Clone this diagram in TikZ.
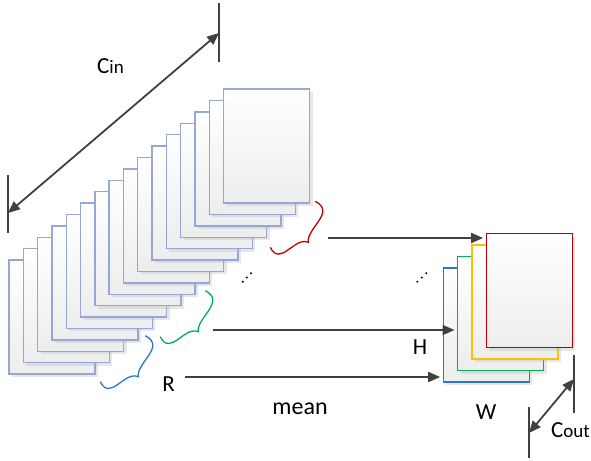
\documentclass[tikz,border=0pt]{standalone}
\usepackage{fontspec}
\setmainfont{Carlito}
\usetikzlibrary{arrows.meta,shadows}

\definecolor{sheetedge}{RGB}{150,166,216}
\definecolor{linegray}{RGB}{64,64,64}
\definecolor{mapblue}{RGB}{40,120,196}
\definecolor{mapgreen}{RGB}{0,176,80}
\definecolor{mapyellow}{RGB}{255,192,0}
\definecolor{mapred}{RGB}{192,0,0}

\begin{document}
\begin{tikzpicture}[x=1pt,y=-1pt,
  sheet/.style={draw=#1, line width=1.4pt, top color=white, bottom color=black!7,
    minimum width=86pt, minimum height=114pt, inner sep=0pt, anchor=north west,
    drop shadow={shadow xshift=3pt, shadow yshift=-3pt, fill=black!30, opacity=0.3}},
  flow/.style={draw=linegray, line width=1.8pt, shorten >=2.5pt,
    -{Triangle[length=12pt,width=10pt]}},
  dimline/.style={draw=linegray, line width=1.8pt,
    {Triangle[length=12pt,width=10pt]}-{Triangle[length=12pt,width=10pt]}},
  tickline/.style={draw=linegray, line width=1.8pt},
  lab/.style={inner sep=0pt, font=\fontsize{23}{27}\selectfont},
  subs/.style={font=\fontsize{19}{21}\selectfont},
  curly/.pic={\draw[line width=1.3pt]
    (7,-41) .. controls (28,-30) and (-2,-14) .. (0,0)
            .. controls (-14,-6) and (-28,25) .. (-38,5);},
  dot/.style={fill=black, radius=1.1pt}
]
\useasboundingbox (0,0) rectangle (591,460);
\fill[white] (0,0) rectangle (591,460);

% input channels: a stack of sixteen feature maps, back to front
\foreach \i in {0,...,15}
  \node[sheet=sheetedge] (s\i) at ({8.3+14.3*\i},{259.3-11.4*\i}) {};

% output channels
\node[sheet=mapblue]   (ob) at (442.7,267.3) {};
\node[sheet=mapgreen]  (og) at (457.0,255.8) {};
\node[sheet=mapyellow] (oy) at (471.3,244.3) {};
\node[sheet=mapred]    (or) at (485.6,232.8) {};

% groups of input maps
\pic[color=mapred]   at (308.3,242.3) {curly};
\pic[color=mapgreen] at (198.3,331.7) {curly};
\pic[color=mapblue]  at (138.3,376.7) {curly};

% group-to-output arrows
\coordinate (g1) at (328,238);
\coordinate (g2) at (213,330);
\coordinate (g3) at (185,377);
\draw[flow] (g1) -- (g1 -| or.west);
\draw[flow] (g2) -- (g2 -| og.west);
\draw[flow] (g3) -- (g3 -| ob.west);

% ellipsis dots
\fill[dot] (242.7,281.7) circle[] (246.8,277.5) circle[] (251,273.3) circle[];
\fill[dot] (417.3,281.7) circle[] (421.7,277.5) circle[] (426.2,273.3) circle[];

% C_in dimension
\coordinate (ci1) at (8,175);   \coordinate (ci2) at (8,233);
\coordinate (ci3) at (219,3);   \coordinate (ci4) at (219,62);
\coordinate (ciA) at (8,213);   \coordinate (ciB) at (219,33);
\draw[tickline] (ci1) -- (ci2);
\draw[tickline] (ci3) -- (ci4);
\draw[dimline] (ciA) -- (ciB);

% C_out dimension
\coordinate (co1) at (529,407); \coordinate (co2) at (529,458);
\coordinate (co3) at (574,355); \coordinate (co4) at (574,413);
\coordinate (coA) at (529,433); \coordinate (coB) at (574,379);
\draw[tickline] (co1) -- (co2);
\draw[tickline] (co3) -- (co4);
\draw[dimline] (coA) -- (coB);

% labels
\node[lab, anchor=base west] (tcin) at (97,74) {C{\fontsize{19}{21}\selectfont in}};
\node[lab, anchor=base west] (tcout) at (551,437) {C{\fontsize{19}{21}\selectfont out}};
\node[lab, anchor=base] (tr) at (168.5,391) {R};
\node[lab, anchor=base] (th) at (420,354) {H};
\node[lab, anchor=base] (tw) at (486,419) {W};
\node[lab, anchor=base, font=\fontsize{24}{28}\selectfont] (tmean) at (300,414) {mean};
\end{tikzpicture}
\end{document}
